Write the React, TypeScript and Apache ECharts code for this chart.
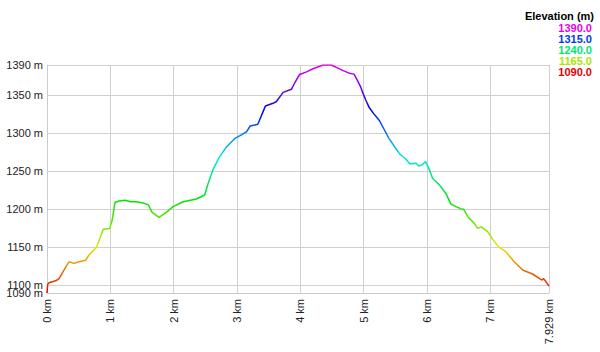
import React, { useEffect, useRef } from "react";
import * as echarts from "echarts";

const distanceKm = [
  0, 0.01, 0.03, 0.137, 0.19, 0.268, 0.347, 0.426, 0.505, 0.61, 0.662, 0.78, 0.836, 0.888, 0.989,
  1.03, 1.073, 1.136, 1.24, 1.32, 1.42, 1.53, 1.6, 1.66, 1.77, 1.9, 1.99, 2.15, 2.36, 2.49,
  2.545, 2.62, 2.72, 2.83, 2.97, 3.07, 3.15, 3.21, 3.33, 3.39, 3.45, 3.57, 3.62, 3.73, 3.86,
  3.91, 3.99, 4.1, 4.2, 4.36, 4.49, 4.67, 4.78, 4.85, 4.9, 4.95, 4.99, 5.04, 5.09, 5.16,
  5.25, 5.33, 5.4, 5.49, 5.57, 5.66, 5.73, 5.83, 5.87, 5.93, 5.98, 6.04, 6.09, 6.2, 6.3,
  6.38, 6.46, 6.56, 6.58, 6.65, 6.75, 6.8, 6.86, 6.96, 7.04, 7.13, 7.25, 7.38, 7.52, 7.67,
  7.78, 7.82, 7.84, 7.88, 7.929,
];

const elevationM = [
  1090, 1101, 1103.6, 1106, 1109, 1120, 1131, 1129, 1131, 1133, 1140, 1150, 1162, 1174, 1175,
  1186, 1209, 1211, 1212, 1210, 1210, 1208, 1206, 1196, 1189.6, 1197, 1203.6, 1210, 1213.7, 1219,
  1234, 1252, 1268.5, 1281.7, 1293.5, 1298, 1302, 1309.7, 1312, 1324, 1336, 1339.6, 1341.7, 1354, 1358,
  1366, 1377.5, 1381, 1385, 1390, 1390, 1383, 1379, 1378, 1370, 1362, 1353, 1343, 1334, 1326,
  1317, 1304.5, 1293.5, 1282.5, 1273, 1267, 1260, 1260.6, 1257, 1259, 1262.8, 1252, 1241, 1232, 1221,
  1207, 1203.6, 1200, 1200.5, 1190, 1181.6, 1175, 1177, 1170.7, 1160.6, 1151, 1144, 1131, 1120, 1115,
  1109, 1107, 1109, 1105, 1099,
];

const yMainTicks = [1100, 1150, 1200, 1250, 1300, 1350, 1390];
const yBottomTicks = [1090];

const legendTitle = "Elevation (m)";
const legendValues = ["1390.0", "1315.0", "1240.0", "1165.0", "1090.0"];
const legendColors = ["#e600e6", "#0039e6", "#00e673", "#ace600", "#e60000"];

const rampColors = [
  "#e60000", "#e67300", "#e6e600", "#73e600", "#00e600", "#00e673",
  "#00e6e6", "#0073e6", "#0000e6", "#7300e6", "#e600e6",
];

const xMin = 0;
const xMax = 7.929;
const yMin = 1090;
const yMax = 1390;

const FONT = "'Liberation Sans', Arial, sans-serif";

export default function App() {
  const ref = useRef<HTMLDivElement>(null);
  useEffect(() => {
    if (!ref.current) return;
    const chart = echarts.init(ref.current, undefined, { renderer: "svg" });
    const data = distanceKm.map((d, i) => [d, elevationM[i]]);
    const graphics: any[] = [
      {
        type: "text",
        right: 6,
        top: 10,
        style: { text: legendTitle, font: `bold 11px ${FONT}`, fill: "#000", textAlign: "right" },
      },
      ...legendValues.map((v, i) => ({
        type: "text",
        right: 8,
        top: 22 + i * 11,
        style: { text: v, font: `bold 11px ${FONT}`, fill: legendColors[i], textAlign: "right" },
      })),
    ];
    const labelBase = {
      margin: 4,
      color: "#222",
      fontSize: 11,
      lineHeight: 8,
      padding: [0, 0, 2, 0],
      fontFamily: FONT,
      showMinLabel: true,
      showMaxLabel: true,
      hideOverlap: false,
      formatter: (v: number) => `${v} m`,
    };
    chart.setOption({
      animation: false,
      backgroundColor: "#fff",
      textStyle: { fontFamily: FONT },
      grid: { left: 47, right: 51, top: 65, bottom: 59, containLabel: false, outerBoundsMode: "none" },
      visualMap: {
        show: false,
        type: "continuous",
        dimension: 1,
        min: yMin,
        max: yMax,
        seriesIndex: 0,
        inRange: { color: rampColors },
      },
      xAxis: {
        type: "value",
        min: xMin,
        max: xMax,
        interval: 1,
        axisLine: { show: true, lineStyle: { color: "#cccccc" } },
        axisTick: { show: false },
        splitLine: { show: true, lineStyle: { color: "#d0d0d0", width: 1 } },
        axisLabel: {
          rotate: 90,
          margin: 6,
          color: "#222",
          fontSize: 11,
          fontFamily: FONT,
          formatter: (v: number) => `${v} km`,
        },
      },
      yAxis: [
        {
          type: "value",
          min: yMin,
          max: yMax,
          position: "left",
          axisLine: { show: true, lineStyle: { color: "#cccccc" } },
          axisTick: { show: false, customValues: yMainTicks },
          splitLine: { show: true, lineStyle: { color: "#d0d0d0", width: 1 } },
          axisLabel: { ...labelBase, customValues: yMainTicks },
        },
        {
          type: "value",
          min: yMin,
          max: yMax,
          position: "left",
          offset: 0,
          axisLine: { show: false },
          axisTick: { show: false, customValues: yBottomTicks },
          splitLine: { show: false },
          axisLabel: { ...labelBase, customValues: yBottomTicks },
        },
      ],
      series: [
        {
          type: "line",
          data,
          yAxisIndex: 0,
          showSymbol: false,
          symbol: "none",
          lineStyle: { width: 1.5 },
        },
      ],
      graphic: graphics,
    });
    return () => chart.dispose();
  }, []);
  return <div ref={ref} style={{ position: "fixed", left: 0, top: 0, width: 600, height: 352 }} />;
}
